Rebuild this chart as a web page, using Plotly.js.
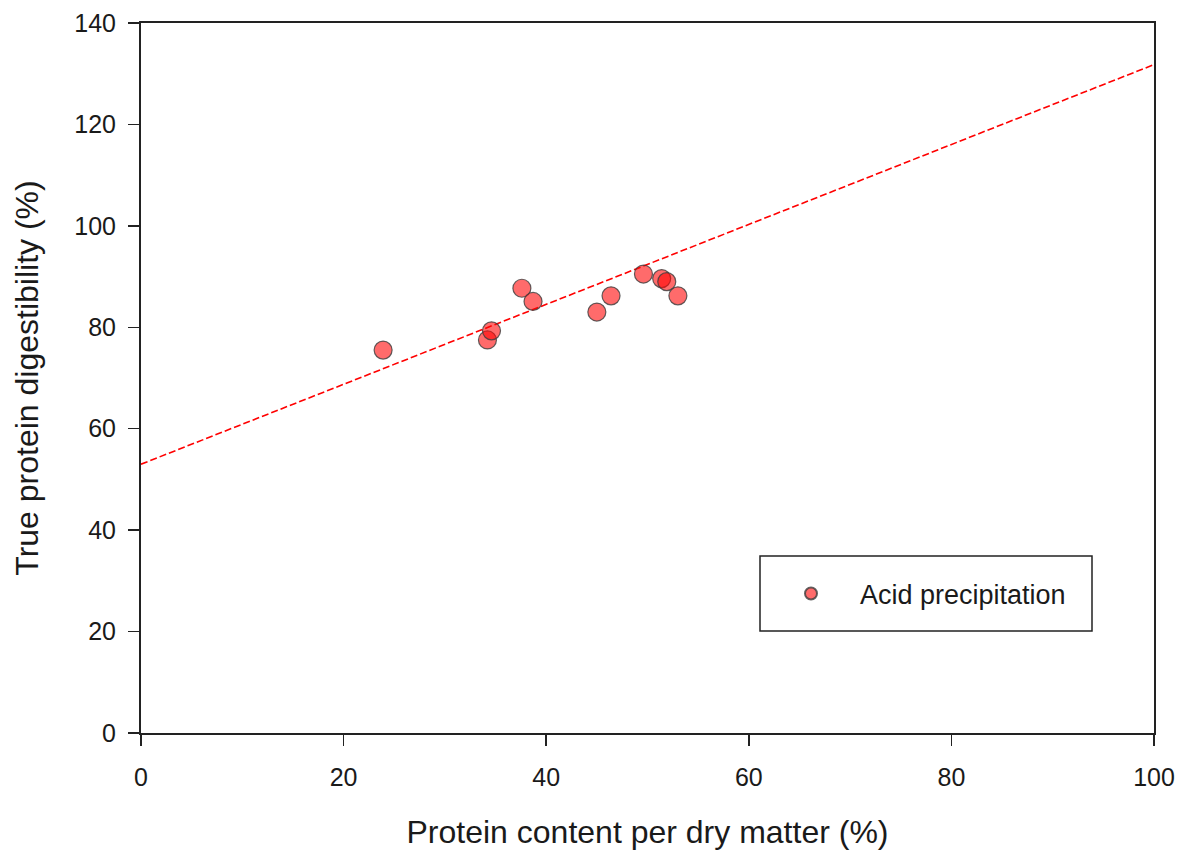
<!DOCTYPE html>
<html>
<head>
<meta charset="utf-8">
<script src="https://cdn.plot.ly/plotly-3.0.1.min.js"></script>
<style>html,body{margin:0;padding:0;background:#fff;}#chart{width:1177px;height:854px;}</style>
</head>
<body>
<div id="chart"></div>
<script>
// Data
const proteinContent = [23.9, 34.2, 34.6, 37.6, 38.7, 45.0, 46.4, 49.6, 51.4, 51.9, 53.0];
const digestibility  = [75.5, 77.5, 79.3, 87.7, 85.1, 83.0, 86.2, 90.5, 89.6, 89.0, 86.2];
const fitX = [0, 100];
const fitY = [53.0, 131.8];
const seriesName = "Acid precipitation";
const xTicks = [0, 20, 40, 60, 80, 100];
const yTicks = [0, 20, 40, 60, 80, 100, 120, 140];

const FONT = 'Liberation Sans, Arial, sans-serif';
const TXT = '#1a1a1a';

const traces = [
  {
    x: fitX, y: fitY, mode: 'lines', type: 'scatter', showlegend: false,
    line: {color: 'rgb(255,0,0)', width: 1.6, dash: '7px,3px'}, hoverinfo: 'skip'
  },
  {
    x: proteinContent, y: digestibility, mode: 'markers', type: 'scatter', name: seriesName,
    marker: {size: 18, color: 'rgba(255,0,0,0.58)', line: {color: 'rgba(60,60,60,0.8)', width: 1.2}}
  }
];

const axisCommon = {
  showline: true, mirror: true, linecolor: '#222', linewidth: 2,
  ticks: 'outside', ticklen: 11, tickwidth: 1.5, tickcolor: '#222',
  showgrid: false, zeroline: false,
  tickfont: {family: FONT, size: 25, color: TXT}
};

const layout = {
  width: 1177, height: 854,
  margin: {l: 141, r: 23, t: 23, b: 121},
  paper_bgcolor: '#fff', plot_bgcolor: '#fff',
  xaxis: Object.assign({}, axisCommon, {
    range: [0, 100], tickvals: xTicks, ticktext: xTicks.map(String),
    ticklabelstandoff: 10,
    title: {text: 'Protein content per dry matter (%)', standoff: 31,
      font: {family: FONT, size: 32, color: TXT}}
  }),
  yaxis: Object.assign({}, axisCommon, {
    range: [0, 140], tickvals: yTicks, ticktext: yTicks.map(String),
    ticklabelstandoff: 7,
    title: {text: 'True protein digestibility (%)', standoff: 26,
      font: {family: FONT, size: 32, color: TXT}}
  }),
  showlegend: true,
  legend: {
    x: (762 - 141) / 1013, y: (733 - 594) / 710, xanchor: 'left', yanchor: 'middle',
    bgcolor: 'rgba(0,0,0,0)', borderwidth: 0, itemwidth: 88,
    font: {family: FONT, size: 27, color: TXT},
    itemsizing: 'constant'
  },
  shapes: [{
    type: 'rect', xref: 'paper', yref: 'paper',
    x0: (760 - 141) / 1013, x1: (1092 - 141) / 1013,
    y0: (733 - 631) / 710, y1: (733 - 556) / 710,
    line: {color: '#222', width: 1.5}, fillcolor: '#fff', layer: 'below'
  }]
};

Plotly.newPlot('chart', traces, layout, {displayModeBar: false, staticPlot: true});
</script>
</body>
</html>
